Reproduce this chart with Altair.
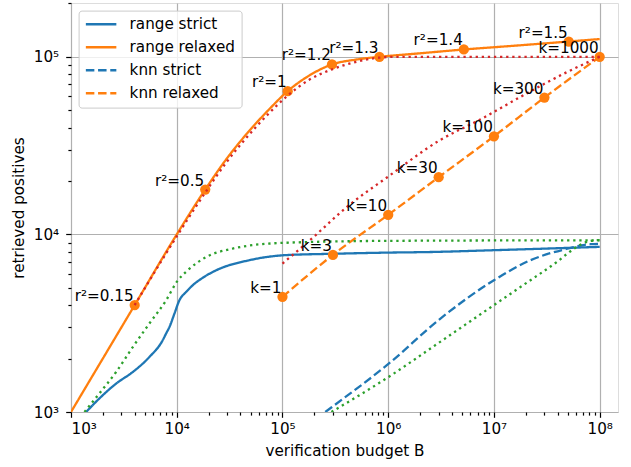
import altair as alt
import pandas as pd

# ---------------- data ----------------
# range strict (blue solid)
rs_B = [1390, 1850, 2670, 3840, 5510, 7380, 7940, 8530, 9510, 10600, 12300, 14200, 17700, 23600, 48700, 105000, 300000, 1e6, 2.5e6, 1e7, 1e8]
rs_V = [1000, 1190, 1445, 1680, 2040, 2540, 2770, 3010, 3580, 4260, 4750, 5180, 5710, 6280, 7160, 7640, 7780, 7900, 7960, 8150, 8510]
# range relaxed (orange solid)
rr_B = [1e3, 4e3, 1e4, 1.86e4, 2.94e4, 4.67e4, 7.4e4, 1.12e5, 1.78e5, 2.94e5, 5.01e5, 8.26e5, 2e6, 5.19e6, 1.5e7, 5.1e7, 1e8]
rr_V = [1e3, 4e3, 1e4, 1.79e4, 2.65e4, 3.73e4, 5.03e4, 6.41e4, 7.83e4, 9.06e4, 9.66e4, 1.0e5, 1.047e5, 1.1e5, 1.153e5, 1.22e5, 1.26e5]
# knn strict (blue dashed)
ks_B = [2.54e5, 2.94e5, 1.01e6, 3.12e6, 1e7, 2.22e7, 4.59e7, 8.2e7, 1e8]
ks_V = [1000, 1067, 1870, 3360, 5520, 7160, 8220, 8810, 8850]
# knn relaxed (orange dashed, with markers)
kr_B = [1e5, 3e5, 1e6, 3e6, 1e7, 3e7, 1e8]
kr_V = [4450, 7670, 12900, 21000, 35700, 59000, 1e5]
kr_labels = ["k=1", "k=3", "k=10", "k=30", "k=100", "k=300", "k=1000"]
# r^2 markers on range relaxed
r2_B = [4e3, 1.86e4, 1.12e5, 2.94e5, 8.26e5, 5.19e6, 5.1e7]
r2_V = [4e3, 1.79e4, 6.41e4, 9.06e4, 1.0e5, 1.1e5, 1.22e5]
r2_labels = ["r²=0.15", "r²=0.5", "r²=1", "r²=1.2", "r²=1.3", "r²=1.4", "r²=1.5"]
# red dotted bounds (relaxed)
rb_B = [4e3, 1e4, 1.86e4, 2.94e4, 4.67e4, 7.4e4, 1.12e5, 1.78e5, 2.94e5, 5.01e5, 8.26e5, 1.2e6, 1e7, 1e8]
rb_V = [4e3, 9750, 17200, 25400, 35600, 47900, 60500, 74100, 85000, 93800, 99000, 1e5, 1e5, 1e5]
kb_B = [1e5, 1.97e5, 4.08e5, 9.8e5, 3.1e6, 7.5e6, 1.79e7, 4.94e7, 1e8]
kb_V = [6850, 9680, 14300, 21000, 34000, 44500, 59600, 82200, 1e5]
# green dotted bounds (strict)
gs_B = [1340, 1850, 2670, 3840, 5510, 7940, 1e4, 1.27e4, 1.9e4, 3.38e4, 1e5, 1e6, 1e8]
gs_V = [1000, 1270, 1680, 2320, 3150, 4260, 5400, 6280, 7460, 8320, 8960, 9200, 9270]
gk_B = [2.9e5, 1e6, 3e6, 1e7, 2e7, 4e7, 5.7e7, 7.1e7, 8.8e7, 1e8]
gk_V = [1000, 1570, 2450, 4000, 5300, 7050, 8300, 8950, 9250, 9300]

series_names = ["range strict", "range relaxed", "knn strict", "knn relaxed"]

rows = []
def add(Bs, Vs, series, kind, labels=None):
    for i, (b, v) in enumerate(zip(Bs, Vs)):
        rows.append(dict(B=b, V=v, series=series, kind=kind,
                         label=(labels[i] if labels else "")))

add(rs_B, rs_V, "range strict", "line")
add(rr_B, rr_V, "range relaxed", "line")
add(ks_B, ks_V, "knn strict", "line")
add(kr_B, kr_V, "knn relaxed", "line")
add(kr_B, kr_V, "k", "point", kr_labels)
add(r2_B, r2_V, "r2", "point", r2_labels)
add(rb_B, rb_V, "range bound", "red")
add(kb_B, kb_V, "knn bound", "red")
add(gs_B, gs_V, "range sbound", "green")
add(gk_B, gk_V, "knn sbound", "green")
df = pd.DataFrame(rows)

FONT = "DejaVu Sans"
FS = 15.2
LW = 2.3
DOT = [2.3, 3.8]
DASH = [8.5, 3.7]
major = "abs(log(datum.value)/LN10 - round(log(datum.value)/LN10)) < 0.001"
lab = ("(" + major + ") ? '10' + ['⁰','¹','²','³','⁴','⁵','⁶','⁷','⁸','⁹']"
       "[round(log(datum.value)/LN10)] : ''")

xt = [m * 10 ** e for e in range(3, 9) for m in range(1, 10) if m * 10 ** e <= 1.49e8]
yt = [m * 10 ** e for e in range(3, 6) for m in range(1, 10) if m * 10 ** e <= 2.01e5]

def axis(title, values, lp, tp):
    return alt.Axis(
        title=title, values=values, labelExpr=lab, labelOverlap=False,
        tickSize={"condition": {"test": major, "value": 5.3}, "value": 3.1},
        gridOpacity={"condition": {"test": major, "value": 1}, "value": 0},
        grid=True, gridColor="#b0b0b0", gridWidth=1.2,
        tickColor="black", tickWidth=1.2, domain=False,
        labelFont=FONT, labelFontSize=FS, labelColor="black", labelPadding=lp,
        titleFont=FONT, titleFontSize=FS, titleFontWeight="normal", titleColor="black",
        titlePadding=tp,
    )

X = alt.X("B:Q", scale=alt.Scale(type="log", domain=[1e3, 1.49e8], nice=False),
          axis=axis("verification budget B", xt, 4.5, 6))
Y = alt.Y("V:Q", scale=alt.Scale(type="log", domain=[1e3, 2.01e5], nice=False),
          axis=axis("retrieved positives", yt, 7, 7))

base = alt.Chart(df).encode(x=X, y=Y)

leg = alt.Legend(title=None, orient="none", legendX=7.6, legendY=7.6,
                 fillColor="rgba(255,255,255,0.8)", strokeColor="#cccccc",
                 cornerRadius=3, padding=6, symbolType="stroke", symbolSize=930,
                 symbolStrokeWidth=LW, labelFont=FONT, labelFontSize=FS,
                 labelColor="black", labelOffset=12, rowPadding=7, clipHeight=15.3)

lines = base.transform_filter("datum.kind == 'line'").mark_line(
    strokeWidth=LW, interpolate="monotone", clip=True
).encode(
    color=alt.Color("series:N", sort=series_names,
                    scale=alt.Scale(domain=series_names,
                                    range=["#1f77b4", "#ff7f0e", "#1f77b4", "#ff7f0e"]),
                    legend=leg),
    strokeDash=alt.StrokeDash("series:N", sort=series_names,
                              scale=alt.Scale(domain=series_names,
                                              range=[[1, 0], [1, 0], DASH, DASH]),
                              legend=leg),
)

points = base.transform_filter("datum.kind == 'point'").mark_circle(
    size=105, color="#ff7f0e", opacity=1
)

red = base.transform_filter("datum.kind == 'red'").mark_line(
    color="#d62728", strokeWidth=LW, strokeDash=DOT, interpolate="monotone", clip=True
).encode(detail="series:N")

green = base.transform_filter("datum.kind == 'green'").mark_line(
    color="#2ca02c", strokeWidth=LW, strokeDash=DOT, interpolate="monotone", clip=True
).encode(detail="series:N")

texts = base.transform_filter("datum.kind == 'point'").mark_text(
    align="right", baseline="bottom", font=FONT, fontSize=FS, color="black", dx=-1, dy=-1
).encode(text="label:N")

chart = alt.layer(lines, points, red, green, texts).properties(
    width=547, height=409,
    autosize=alt.AutoSizeParams(type="none"),
    padding={"left": 71, "top": 3, "right": 13, "bottom": 55},
).configure_view(stroke="black", strokeWidth=1.2).configure(font=FONT)

chart.save("out.html", embed_options={"renderer": "svg", "actions": False})
